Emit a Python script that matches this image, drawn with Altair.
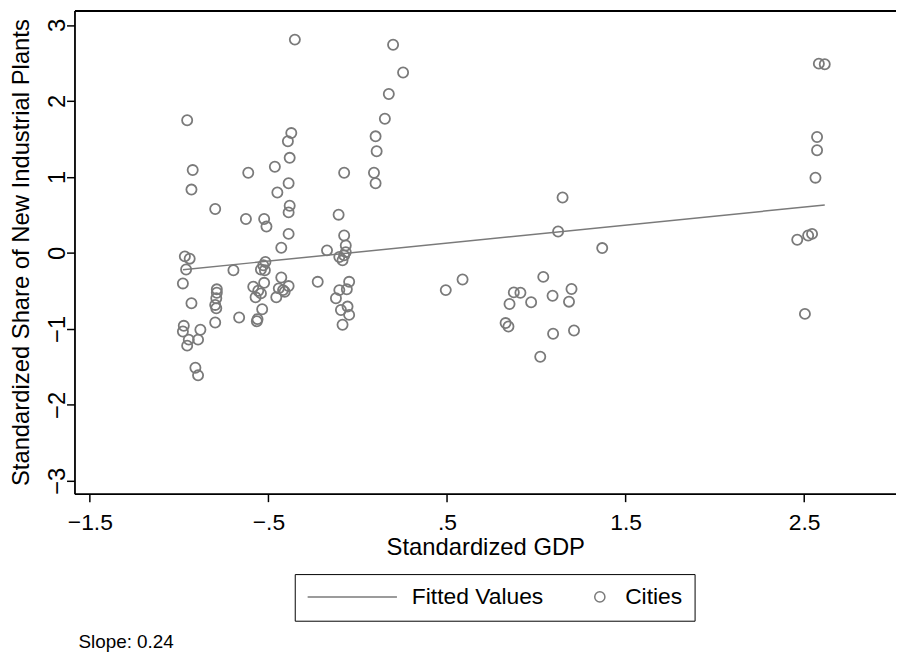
import altair as alt
import pandas as pd

# ---- data ----
gdp = [
    -0.955, -0.372, -0.391, -0.381, -0.924, -0.613, -0.464, -0.931, -0.387, -0.450,
    -0.798, -0.381, -0.387, -0.626, -0.524, -0.511, -0.387, -0.352,
    -0.968, -0.941, -0.961, -0.696, -0.428, -0.517, -0.529, -0.542, -0.520, -0.979,
    -0.789, -0.789, -0.792, -0.798, -0.792, -0.931, -0.798, -0.664,
    -0.585, -0.524, -0.557, -0.542, -0.572, -0.535, -0.561, -0.565,
    -0.428, -0.442, -0.418, -0.387, -0.456, -0.409,
    -0.974, -0.979, -0.881, -0.946, -0.894, -0.955, -0.909, -0.894,
    -0.076, -0.172, -0.067, -0.067, -0.103, -0.085, -0.076, -0.224, -0.048, -0.103,
    -0.061, -0.122, -0.057, -0.094, -0.048, -0.085,
    0.198, 0.254, 0.174, 0.152, 0.100, 0.106, -0.076, 0.091, 0.100, -0.107,
    1.147, 1.122, 1.369, 0.587, 0.493, 1.039, 0.874, 0.911, 1.197, 1.091,
    0.971, 0.850, 1.183, 0.828, 0.844, 1.094, 1.211, 1.022,
    2.582, 2.615, 2.572, 2.572, 2.563, 2.461, 2.522, 2.544, 2.504,
]
share = [
    1.745, 1.577, 1.469, 1.251, 1.090, 1.055, 1.133, 0.833, 0.916, 0.794,
    0.577, 0.620, 0.533, 0.446, 0.446, 0.346, 0.250, 2.807,
    -0.046, -0.076, -0.219, -0.228, 0.068, -0.120, -0.163, -0.219, -0.228, -0.402,
    -0.480, -0.525, -0.598, -0.685, -0.729, -0.663, -0.916, -0.851,
    -0.446, -0.394, -0.499, -0.533, -0.585, -0.742, -0.872, -0.900,
    -0.324, -0.467, -0.490, -0.437, -0.585, -0.511,
    -0.960, -1.034, -1.012, -1.142, -1.142, -1.221, -1.512, -1.612,
    0.228, 0.033, 0.098, 0.010, -0.055, -0.098, -0.033, -0.381, -0.381, -0.490,
    -0.480, -0.598, -0.707, -0.751, -0.816, -0.946,
    2.739, 2.374, 2.091, 1.765, 1.534, 1.338, 1.055, 1.055, 0.916, 0.503,
    0.729, 0.281, 0.063, -0.350, -0.490, -0.316, -0.520, -0.525, -0.476, -0.564,
    -0.650, -0.672, -0.642, -0.924, -0.969, -1.064, -1.021, -1.368,
    2.491, 2.483, 1.525, 1.351, 0.990, 0.172, 0.228, 0.250, -0.803,
]
fit_gdp = [-0.979, 2.615]
fit_share = [-0.222, 0.630]
series_names = ["Fitted Values", "Cities"]
x_ticks = [-1.5, -0.5, 0.5, 1.5, 2.5]
y_ticks = [-3, -2, -1, 0, 1, 2, 3]
x_domain = [-1.586, 3.014]
y_domain = [-3.17, 3.19]
x_title = "Standardized GDP"
y_title = "Standardized Share of New Industrial Plants"
slope_text = "Slope: 0.24"

pts = pd.DataFrame({"gdp": gdp, "share": share, "series": ["Cities"] * len(gdp)})
fit = pd.DataFrame({"gdp": fit_gdp, "share": fit_share})

FONT = "Liberation Sans"
GRAY = "#7a7a7a"

xscale = alt.Scale(domain=x_domain, nice=False, zero=False)
yscale = alt.Scale(domain=y_domain, nice=False, zero=False)

y_axis = alt.Axis(values=y_ticks, format="d", title=y_title, grid=False,
                  labelAngle=270, labelAlign="center", labelBaseline="alphabetic",
                  tickSize=8, labelPadding=2, titleX=-41,
                  labelFont=FONT, labelFontSize=24, titleFont=FONT, titleFontSize=24,
                  titleFontWeight="normal", labelColor="black", titleColor="black",
                  domainColor="black", domainWidth=1.8, tickColor="black", tickWidth=1.5)


def make_legend():
    return alt.Legend(
        title=None, orient="none", legendX=222, legendY=568, direction="horizontal",
        strokeColor="black", fillColor="white", padding=12,
        labelFont=FONT, labelFontSize=23, labelColor="black", labelOffset=14,
        columnPadding=45, clipHeight=22,
        symbolStrokeColor=GRAY, symbolStrokeWidth=1.5, symbolFillColor="transparent",
    )


fit_layer = alt.Chart(fit).mark_line(color=GRAY, strokeWidth=1.5).encode(
    x=alt.X("gdp:Q", scale=xscale,
            axis=alt.Axis(orient="top", labels=False, ticks=False, title=None, grid=False,
                          domain=True, domainColor="black", domainWidth=2)),
    y=alt.Y("share:Q", scale=yscale, axis=y_axis),
)

pt_layer = alt.Chart(pts).mark_point(filled=False, color=GRAY, strokeWidth=1.8, opacity=1).encode(
    x=alt.X("gdp:Q", scale=xscale,
            axis=alt.Axis(orient="bottom", values=x_ticks, title=x_title, grid=False,
                          labelExpr="replace(format(datum.value, '.1f'), '0.', '.')",
                          labelFlush=False, tickSize=8, labelPadding=10, titlePadding=1,
                          labelFont=FONT, labelFontSize=23, titleFont=FONT, titleFontSize=24,
                          titleFontWeight="normal", labelColor="black", titleColor="black",
                          domainColor="black", domainWidth=1.8, tickColor="black", tickWidth=1.5)),
    y=alt.Y("share:Q", scale=yscale, axis=y_axis),
    shape=alt.Shape("series:N", scale=alt.Scale(domain=series_names, range=["stroke", "circle"]),
                    legend=make_legend()),
    size=alt.Size("series:O", scale=alt.Scale(domain=series_names, range=[8100, 105]),
                  legend=make_legend()),
)

chart = alt.layer(fit_layer, pt_layer).resolve_axis(x="independent", y="shared").properties(
    width=828, height=487,
    autosize=alt.AutoSizeParams(type="none"),
    padding={"left": 67, "top": 0, "right": 0, "bottom": 159},
    title=alt.TitleParams(text=slope_text, orient="bottom", anchor="start", frame="group",
                          font=FONT, fontSize=19, fontWeight="normal", color="black",
                          offset=12, dx=4),
).configure_view(stroke=None).configure(background="white")

chart.save("out.html", embed_options={"renderer": "svg", "actions": False})
